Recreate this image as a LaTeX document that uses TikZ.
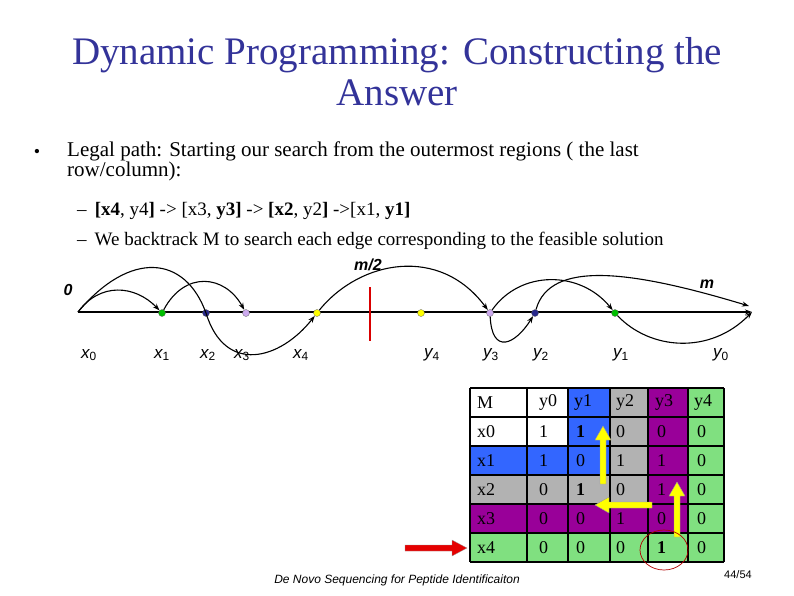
\documentclass[tikz,border=0pt]{standalone}
\usepackage{fontspec}
\setmainfont{Liberation Serif}
\setsansfont{Liberation Sans}
\usetikzlibrary{arrows.meta}
\definecolor{ttl}{RGB}{51,51,153}
\definecolor{cblue}{RGB}{51,102,255}
\definecolor{cgray}{RGB}{178,178,178}
\definecolor{cpurp}{RGB}{153,0,153}
\definecolor{cgreen}{RGB}{128,224,128}
\definecolor{cnavy}{RGB}{40,40,140}
\definecolor{clav}{RGB}{204,170,238}
\definecolor{cyel}{RGB}{255,255,0}
\tikzset{
  dot/.style={circle,draw=black!60,line width=0.3pt,minimum size=7pt,inner sep=0pt},
  lbl/.style={font=\sffamily\itshape\fontsize{17}{17}\selectfont,inner sep=0pt},
  arc/.style={-{Stealth[length=7pt,width=5pt]},line width=1.1pt},
  cellt/.style={font=\fontsize{18}{18}\selectfont,anchor=west,inner sep=0pt},
  yarrow/.style={draw=black!40,fill=cyel,line width=0.4pt}
}
\begin{document}
\begin{tikzpicture}[x=1pt,y=-1pt]
\useasboundingbox (0,0) rectangle (794,595);
\node[ttl,font=\fontsize{39}{41}\selectfont,align=center] (title) at (397,72) {Dynamic Programming: Constructing the\\Answer};
\node[font=\fontsize{18}{18}\selectfont] (b) at (37,153) {•};
\node[font=\fontsize{21}{20}\selectfont,anchor=north west,align=left,inner sep=0pt] (t1) at (67,142) {Legal path: Starting our search from the outermost regions ( the last\\row/column):};
\node[font=\fontsize{19}{19}\selectfont,anchor=west,inner sep=0pt] (t2) at (77,211) {–\hspace{8pt}\textbf{[x4}, y4\textbf{]} -> [x3, \textbf{y3]} -> \textbf{[x2}, y2\textbf{]} ->[x1, \textbf{y1]}};
\node[font=\fontsize{19}{19}\selectfont,anchor=west,inner sep=0pt] (t3) at (77,241) {–\hspace{8pt}We backtrack M to search each edge corresponding to the feasible solution};
% number line
\coordinate (s) at (78,312);
\coordinate (e) at (752,312);
\draw[arc] (s) -- (e);
\draw[red!85!black,line width=2pt] (370,287) -- (370,341);
\node[font=\sffamily\bfseries\itshape\fontsize{16}{16}\selectfont] (mh) at (368,265) {m/2};
\node[font=\sffamily\bfseries\itshape\fontsize{16}{16}\selectfont] (z) at (68,290) {0};
\node[font=\sffamily\bfseries\itshape\fontsize{16}{16}\selectfont] (mm) at (707,284) {m};
\coordinate (em) at (749,306);
\node[dot,fill=green!75!black] (g1) at (162,313) {};
\node[dot,fill=cnavy] (n1) at (206,313) {};
\node[dot,fill=clav] (l1) at (246,313) {};
\node[dot,fill=cyel] (y1) at (317,313) {};
\node[dot,fill=cyel] (y2) at (421,313) {};
\node[dot,fill=clav] (l2) at (490,313) {};
\node[dot,fill=cnavy] (n2) at (535,313) {};
\node[dot,fill=green!75!black] (g2) at (615,313) {};
\draw[arc] (s) .. controls (100,282) and (135,285) .. (g1);
\draw[arc] (s) .. controls (130,250) and (185,255) .. (n1.center) .. controls (225,375) and (280,360) .. (y1);
\draw[arc] (g1) .. controls (185,270) and (225,275) .. (l1);
\draw[arc] (y1) .. controls (360,260) and (440,245) .. (l2);
\draw[arc] (l2) .. controls (492,355) and (515,345) .. (n2);
\draw[arc] (l2) .. controls (520,270) and (580,270) .. (g2);
\draw[arc] (n2) .. controls (550,260) and (630,270) .. (em);
\draw[arc] (g2) .. controls (650,350) and (710,355) .. (e);
\node[lbl] at (89,355) {x$_{\mathsf 0}$};
\node[lbl] at (162,355) {x$_{\mathsf 1}$};
\node[lbl] at (208,355) {x$_{\mathsf 2}$};
\node[lbl] at (242,355) {x$_{\mathsf 3}$};
\node[lbl] at (301,355) {x$_{\mathsf 4}$};
\node[lbl] at (432,355) {y$_{\mathsf 4}$};
\node[lbl] at (491,355) {y$_{\mathsf 3}$};
\node[lbl] at (541,355) {y$_{\mathsf 2}$};
\node[lbl] at (621,355) {y$_{\mathsf 1}$};
\node[lbl] at (721,355) {y$_{\mathsf 0}$};
% table
\def\xs{{470,527,568,610,648,688,724}}
\def\ys{{388,417,446,475,504,533,562}}
\foreach \r in {0,...,5}{
 \foreach \c in {0,...,5}{
  \pgfmathtruncatemacro{\ri}{max(\r-1,0)}
  \pgfmathtruncatemacro{\ci}{max(\c-1,0)}
  \pgfmathtruncatemacro{\k}{max(\ri,\ci)}
  \ifcase\k \def\cc{white}\or\def\cc{cblue}\or\def\cc{cgray}\or\def\cc{cpurp}\else\def\cc{cgreen}\fi
  \pgfmathsetmacro{\xa}{\xs[\c]}\pgfmathsetmacro{\xb}{\xs[\c+1]}
  \pgfmathsetmacro{\ya}{\ys[\r]}\pgfmathsetmacro{\yb}{\ys[\r+1]}
  \fill[\cc] (\xa,\ya) rectangle (\xb,\yb);
 }
}
\foreach \c in {0,...,6}{\pgfmathsetmacro{\xa}{\xs[\c]}\draw[line width=2pt] (\xa,388) -- (\xa,562);}
\foreach \r in {0,...,6}{\pgfmathsetmacro{\ya}{\ys[\r]}\draw[line width=2pt] (470,\ya) -- (724,\ya);}
\node[cellt] at (477,402.5) {M};
\node[cellt] at (539,402.5) {y0};
\node[cellt] at (574,402.5) {y1};
\node[cellt] at (616,402.5) {y2};
\node[cellt] at (655,402.5) {y3};
\node[cellt] at (694,402.5) {y4};
\foreach \n [count=\i] in {x0,x1,x2,x3,x4}{
  \node[cellt] at (477,402.5+29*\i) {\n};}
\foreach \a/\b/\cc/\d/\e [count=\i] in {1/\textbf{1}/0/0/0, 1/0/1/1/0, 0/\textbf{1}/0/1/0, 0/0/1/0/0, 0/0/0/\textbf{1}/0}{
  \node[cellt] at (539,402.5+29*\i) {\a};
  \node[cellt] at (576,402.5+29*\i) {\b};
  \node[cellt] at (616,402.5+29*\i) {\cc};
  \node[cellt] at (657,402.5+29*\i) {\d};
  \node[cellt] at (697,402.5+29*\i) {\e};
}
% yellow arrows
\draw[yarrow] (600,484) -- (600,440) -- (595,440) -- (603,426) -- (611,440) -- (606,440) -- (606,484) -- cycle;
\draw[yarrow] (652,502) -- (609,502) -- (609,497) -- (595,505) -- (609,513) -- (609,508) -- (652,508) -- cycle;
\draw[yarrow] (674,537) -- (674,496) -- (669,496) -- (677,482) -- (685,496) -- (680,496) -- (680,537) -- cycle;
\draw[red!70!black,line width=0.7pt] (664,550) ellipse (24 and 20);
\draw[draw=black!40,fill=red!90!black,line width=0.3pt] (405,545) -- (452,545) -- (452,540) -- (467,548) -- (452,556) -- (452,551) -- (405,551) -- cycle;
\node[font=\sffamily\itshape\fontsize{12}{12}\selectfont] (ft) at (397,580) {De Novo Sequencing for Peptide Identificaiton};
\node[font=\sffamily\fontsize{11}{11}\selectfont] (pg) at (738,575) {44/54};
\end{tikzpicture}
\end{document}
